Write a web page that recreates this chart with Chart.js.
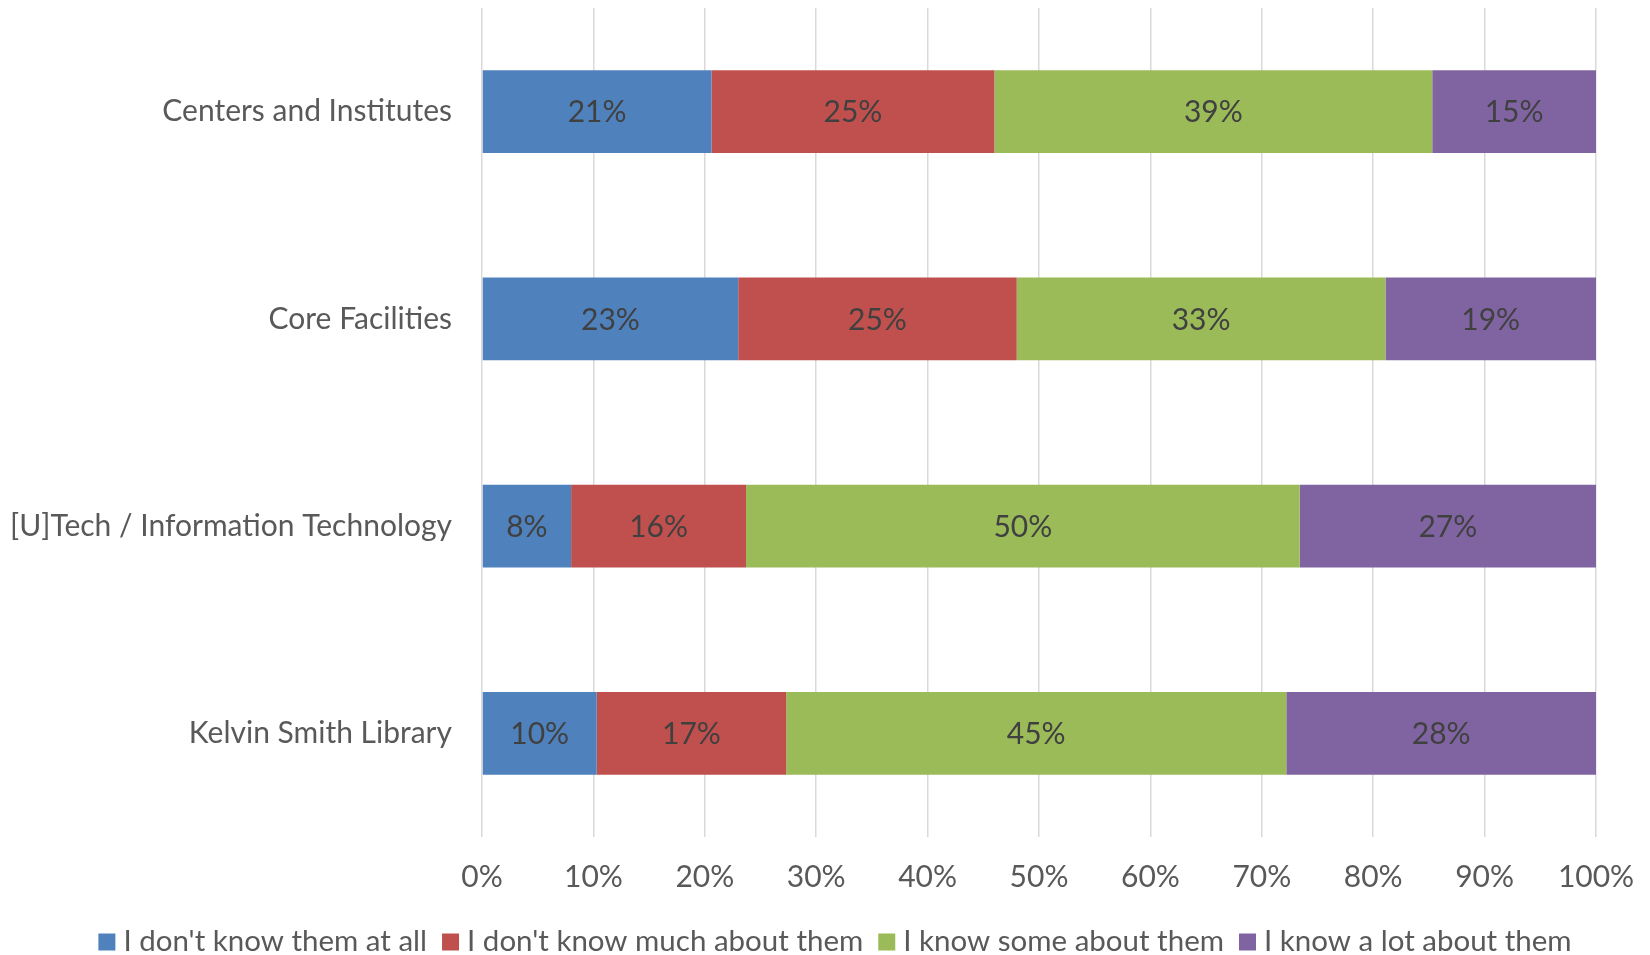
<!DOCTYPE html>
<html>
<head>
<meta charset="utf-8">
<script src="https://cdn.jsdelivr.net/npm/chart.js@4/dist/chart.umd.min.js"></script>
<style>
	html, body { margin: 0; padding: 0; background: #fff; }
	#wrap { width: 1650px; height: 955px; }
</style>
</head>
<body>
<div id="wrap"><canvas id="chart"></canvas></div>
<script>
const categories = ["Centers and Institutes", "Core Facilities", "[U]Tech / Information Technology", "Kelvin Smith Library"];
const seriesNames = ["I don't know them at all", "I don't know much about them", "I know some about them", "I know a lot about them"];
const dontKnowAtAll = [20.6, 23.0, 8.0, 10.3];
const dontKnowMuch = [25.4, 25.0, 15.7, 17.0];
const knowSome = [39.3, 33.1, 49.7, 44.9];
const knowALot = [14.7, 18.9, 26.6, 27.8];
const xTicks = [0, 10, 20, 30, 40, 50, 60, 70, 80, 90, 100];
let colors = ["#4F81BD", "#C0504D", "#9BBB59", "#8064A2"];

const fontName = "Lato, 'Liberation Sans', sans-serif";
const fontSize = 30;

window.onload = run;

function run(){
	let values = [dontKnowAtAll, dontKnowMuch, knowSome, knowALot];
	let dataSets = [];
	for(let i = 0; i < values.length; i++){
		dataSets[dataSets.length] = {
			label: seriesNames[i],
			data: values[i],
			backgroundColor: colors[i],
			borderWidth: 0,
			categoryPercentage: 1,
			barPercentage: 0.4
		};
	}

	// percentages in the middle of each segment
	let barLabels = {
		id: "barLabels",
		afterDatasetsDraw(chart){
			let ctx = chart.ctx;
			ctx.save();
			ctx.font = fontSize + "px " + fontName;
			ctx.fillStyle = "#404040";
			ctx.textAlign = "center";
			ctx.textBaseline = "middle";
			chart.data.datasets.forEach((ds, i) => {
				let meta = chart.getDatasetMeta(i);
				meta.data.forEach((bar, j) => {
					let mid = (bar.x + bar.base) / 2;
					ctx.fillText(Math.round(ds.data[j]) + "%", mid, bar.y + 1);
				});
			});
			ctx.restore();
		}
	};

	// legend drawn by hand so the gaps match the original
	let bottomLegend = {
		id: "bottomLegend",
		afterDraw(chart){
			let ctx = chart.ctx;
			ctx.save();
			ctx.font = "29.5px " + fontName;
			ctx.textBaseline = "middle";
			ctx.textAlign = "left";
			let box = 17, gap = 8, spacing = 15;
			let total = 0;
			let widths = chart.data.datasets.map(ds => ctx.measureText(ds.label).width);
			widths.forEach(w => total += box + gap + w);
			total += spacing * (widths.length - 1);
			let x = chart.width / 2 - total / 2 + 10;
			let y = 941;
			chart.data.datasets.forEach((ds, i) => {
				ctx.fillStyle = ds.backgroundColor;
				ctx.fillRect(x, y - box / 2 + 1, box, box);
				ctx.fillStyle = "#595959";
				ctx.fillText(ds.label, x + box + gap, y);
				x += box + gap + widths[i] + spacing;
			});
			ctx.restore();
		}
	};

	let ctx = document.getElementById("chart").getContext("2d");
	let chart = new Chart(ctx, {
		type: "bar",
		data: {
			labels: categories,
			datasets: dataSets
		},
		options: {
			indexAxis: "y",
			responsive: true,
			maintainAspectRatio: false,
			animation: false,
			layout: { padding: { top: 8, right: 54, bottom: 46, left: 0 } },
			scales: {
				x: {
					stacked: true,
					min: 0,
					max: 100,
					afterBuildTicks: s => { s.ticks = xTicks.map(v => ({ value: v })); },
					afterFit: s => { s.height = 72; s.paddingLeft = 0; s.paddingRight = 0; },
					grid: { color: "#D9D9D9", lineWidth: 1.5, drawTicks: false },
					border: { display: false },
					ticks: {
						padding: 22,
						color: "#595959",
						font: { family: fontName, size: fontSize },
						callback: v => v + "%"
					}
				},
				y: {
					stacked: true,
					afterFit: s => { s.width = 482; s.paddingTop = 0; s.paddingBottom = 0; },
					grid: { display: false, drawTicks: false },
					border: { display: false },
					ticks: {
						padding: 30,
						color: "#595959",
						font: { family: fontName, size: fontSize }
					}
				}
			},
			plugins: {
				legend: { display: false },
				tooltip: { enabled: false }
			}
		},
		plugins: [barLabels, bottomLegend]
	});
}
</script>
</body>
</html>
